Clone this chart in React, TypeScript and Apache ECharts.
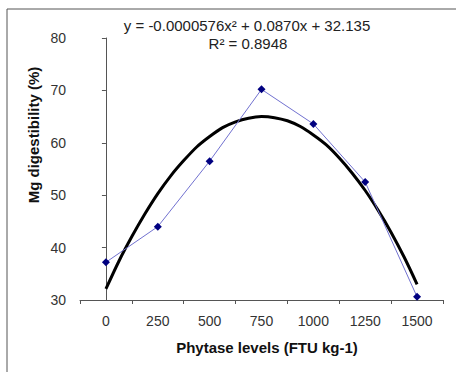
import React, { useEffect, useRef } from "react";
import * as echarts from "echarts";

const categories = ["0", "250", "500", "750", "1000", "1250", "1500"];
const digestibility = [37.2, 44.0, 56.5, 70.2, 63.6, 52.5, 30.6];
const trendX = [
  0, 62.5, 125, 187.5, 250, 312.5, 375, 437.5, 500, 562.5, 625, 687.5, 750,
  812.5, 875, 937.5, 1000, 1062.5, 1125, 1187.5, 1250, 1312.5, 1375, 1437.5, 1500,
];
const trendY = [
  32.1, 37.4, 42.1, 46.4, 50.3, 53.7, 56.6, 59.2, 61.2, 62.9, 64.0, 64.7, 65.0,
  64.8, 64.2, 63.1, 61.5, 59.6, 57.1, 54.2, 50.9, 47.1, 42.9, 38.2, 33.0,
];
const equationText = "y = -0.0000576x² + 0.0870x + 32.135";
const r2Text = "R² = 0.8948";
const yTitle = "Mg digestibility (%)";
const xTitle = "Phytase levels (FTU kg-1)";

const FONT = "'Liberation Sans', Arial, sans-serif";

export default function App() {
  const ref = useRef<HTMLDivElement>(null);
  useEffect(() => {
    if (!ref.current) return;
    const chart = echarts.init(ref.current, undefined, { renderer: "svg" });
    chart.setOption({
      animation: false,
      backgroundColor: "#ffffff",
      grid: { left: 80, top: 38, right: 13, bottom: 72, containLabel: false },
      xAxis: [
        {
          type: "category",
          data: categories,
          boundaryGap: true,
          axisLine: { lineStyle: { color: "#555", width: 1 } },
          axisTick: { show: true, length: 4, inside: false, lineStyle: { color: "#555" } },
          axisLabel: { color: "#333", fontFamily: FONT, fontSize: 14, margin: 14 },
          splitLine: { show: false },
        },
        {
          type: "value",
          min: -125,
          max: 1625,
          show: false,
        },
      ],
      yAxis: {
        type: "value",
        min: 30,
        max: 80,
        interval: 10,
        axisLine: { show: true, lineStyle: { color: "#555", width: 1 } },
        axisTick: { show: true, length: 4, lineStyle: { color: "#555" } },
        axisLabel: { color: "#333", fontFamily: FONT, fontSize: 14, margin: 14 },
        splitLine: { show: false },
      },
      series: [
        {
          type: "line",
          xAxisIndex: 1,
          data: trendX.map((x, i) => [x, trendY[i]]),
          smooth: 0.3,
          showSymbol: false,
          symbol: "none",
          lineStyle: { color: "#000", width: 3 },
          z: 2,
        },
        {
          type: "line",
          xAxisIndex: 0,
          data: digestibility,
          symbol: "diamond",
          symbolSize: 8,
          itemStyle: { color: "#000080" },
          lineStyle: { color: "#7171d0", width: 1 },
          z: 3,
        },
      ],
      graphic: [
        {
          type: "rect",
          shape: { x: 7, y: 9, width: 470, height: 400 },
          style: { fill: "none", stroke: "#555", lineWidth: 1 },
          silent: true,
          z: -1,
        },
        {
          type: "text",
          x: 247,
          y: 25,
          style: {
            text: equationText,
            fill: "#222",
            font: `15px ${FONT}`,
            textAlign: "center",
            textVerticalAlign: "middle",
          },
        },
        {
          type: "text",
          x: 248,
          y: 43,
          style: {
            text: r2Text,
            fill: "#222",
            font: `15px ${FONT}`,
            textAlign: "center",
            textVerticalAlign: "middle",
          },
        },
        {
          type: "text",
          x: 33,
          y: 135,
          rotation: Math.PI / 2,
          style: {
            text: yTitle,
            fill: "#111",
            font: `bold 15px ${FONT}`,
            textAlign: "center",
            textVerticalAlign: "middle",
          },
        },
        {
          type: "text",
          x: 267,
          y: 347,
          style: {
            text: xTitle,
            fill: "#111",
            font: `bold 15px ${FONT}`,
            textAlign: "center",
            textVerticalAlign: "middle",
          },
        },
      ],
    });
    return () => chart.dispose();
  }, []);
  return (
    <div
      ref={ref}
      style={{ position: "fixed", left: 0, top: 0, width: 456, height: 372 }}
    />
  );
}
